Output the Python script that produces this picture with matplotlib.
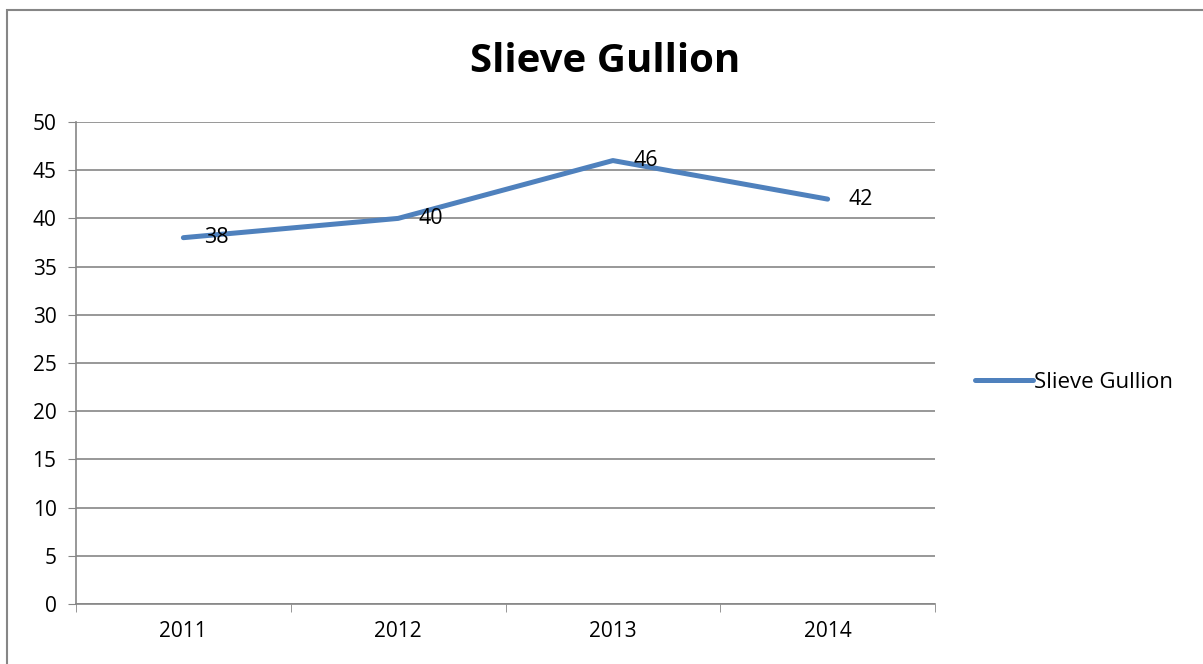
import matplotlib.pyplot as plt
from matplotlib.patches import Rectangle

years = ['2011', '2012', '2013', '2014']
visitors = [38, 40, 46, 42]
series_name = 'Slieve Gullion'
y_ticks = [0, 5, 10, 15, 20, 25, 30, 35, 40, 45, 50]

plt.rcParams['font.family'] = ['Open Sans', 'DejaVu Sans']
W, H = 1203, 664
fig = plt.figure(figsize=(W / 100, H / 100), dpi=100)
fig.patches.append(Rectangle((7 / W, -0.1), 1.0, 1.1 - 10 / H, transform=fig.transFigure,
                             fill=False, edgecolor='#868686', lw=1.5))

ax = fig.add_axes([76 / W, 1 - 604 / H, (935 - 76) / W, (604 - 122) / H])
x = range(len(years))
ax.plot(x, visitors, color='#4F81BD', lw=3.6, solid_capstyle='round', label=series_name)
for xi, v in zip(x, visitors):
    ax.annotate(str(v), (xi, v), xytext=(15, 0), textcoords='offset points',
                ha='left', va='center', fontsize=15.5)

ax.set_xlim(-0.5, len(years) - 0.5)
ax.set_ylim(0, 50)
ax.set_yticks(y_ticks)
ax.set_xticks(x)
ax.set_xticklabels(years)
ax.set_xticks([i - 0.5 for i in range(len(years) + 1)], minor=True)
ax.tick_params(axis='x', which='major', length=0, labelsize=15, pad=12)
ax.tick_params(axis='x', which='minor', length=6, color='#868686', direction='out')
ax.tick_params(axis='y', length=6, color='#868686', labelsize=15, pad=8)
ax.grid(axis='y', color='#868686', lw=1.2)
ax.set_axisbelow(True)
for s in ['top', 'right']:
    ax.spines[s].set_visible(False)
for s in ['left', 'bottom']:
    ax.spines[s].set_color('#868686')
    ax.spines[s].set_linewidth(1.2)

fig.text(605 / W, 1 - 62 / H, series_name, ha='center', va='center', fontsize=29, fontweight='bold')
fig.legend(loc='center left', bbox_to_anchor=(955 / W, 1 - 382 / H), frameon=False,
           fontsize=16, handlelength=2.6, handletextpad=0.05)

fig.savefig('out.png', dpi=100)
